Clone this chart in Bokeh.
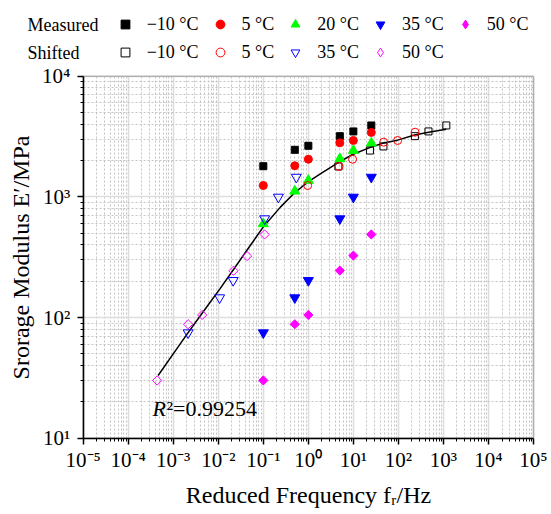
import math
from bokeh.plotting import figure
from bokeh.models import (FixedTicker, CustomJSTickFormatter, Legend, LegendItem, Label,
                          BoxAnnotation, Range1d, ColumnDataSource, CDSView, IndexFilter)
from bokeh.embed import file_html
from bokeh.resources import INLINE

# ---------------- data ----------------
freq_measured = [0.1, 0.5, 1, 5, 10, 25]
E_m10 = [1795, 2455, 2650, 3185, 3486, 3906]
E_5 = [1242, 1810, 2050, 2803, 2933, 3420]
E_20 = [598, 1115, 1368, 2070, 2420, 2786]
E_35 = [74.8, 146, 203, 659, 996, 1456]
E_50 = [30.1, 88, 105, 245, 326, 488]

freq_shift_m10 = [4.65, 23.3, 46.5, 232, 465, 1160]
E_shift_m10 = [1787, 2420, 2618, 3185, 3486, 3906]
freq_shift_5 = [0.966, 4.8, 9.6, 47, 96, 235]
E_shift_5 = [1242, 1787, 2050, 2840, 2933, 3433]
freq_shift_35 = [0.00214, 0.0107, 0.0214, 0.107, 0.216, 0.54]
E_shift_35 = [74.8, 146, 203, 659, 996, 1456]
freq_shift_50 = [0.000438, 0.00214, 0.00438, 0.0217, 0.0437, 0.107]
E_shift_50 = [30.1, 88, 105, 244, 323, 488]

fit_freq = [0.000461, 0.001026, 0.002138, 0.004375, 0.01096, 0.02198, 0.04365,
            0.1019, 0.2393, 0.4887, 0.966, 1.845, 4.797, 9.616, 23.77, 46.88,
            95.9, 228.6, 467.7, 1156]
fit_E = [33.1, 50.7, 75.0, 108.4, 173.8, 251.2, 363.1, 568.9, 822.2, 1076, 1324,
         1552, 1939, 2244, 2570, 2799, 2951, 3258, 3436, 3631]
r2_text = "0.99254"

x_ticks = [1e-5, 1e-4, 1e-3, 1e-2, 1e-1, 1e0, 1e1, 1e2, 1e3, 1e4, 1e5]
x_tick_labels = ["10⁻⁵", "10⁻⁴", "10⁻³", "10⁻²", "10⁻¹", "10⁰", "10¹", "10²", "10³", "10⁴", "10⁵"]
y_ticks = [1e1, 1e2, 1e3, 1e4]
y_tick_labels = ["10¹", "10²", "10³", "10⁴"]

measured_labels = ["−10 °C", "5 °C", "20 °C", "35 °C", "50 °C"]
shifted_labels = ["−10 °C", "5 °C", "35 °C", "50 °C"]

FONT = "Liberation Serif"
W, H = 551, 514
# pixel box of the plotting area inside the canvas
PL, PR, PT, PB = 82.7, 533.0, 75.7, 437.7
XMIN, XMAX, YMIN, YMAX = x_ticks[0], x_ticks[-1], y_ticks[0], y_ticks[-1]
dx = (PR - PL) / (math.log10(XMAX) - math.log10(XMIN))
dy = (PB - PT) / (math.log10(YMAX) - math.log10(YMIN))
x_range = Range1d(10 ** (math.log10(XMIN) - PL / dx), 10 ** (math.log10(XMAX) + (W - PR) / dx))
y_range = Range1d(10 ** (math.log10(YMIN) - (H - PB) / dy), 10 ** (math.log10(YMAX) + PT / dy))

p = figure(width=W, height=H, min_border=0,
           x_axis_type="log", y_axis_type="log",
           x_range=x_range, y_range=y_range,
           output_backend="svg", toolbar_location=None)
p.background_fill_color = "white"
p.border_fill_color = "white"
p.outline_line_color = None

x_minor = [m * t for t in x_ticks[:-1] for m in range(2, 10)]
y_minor = [m * t for t in y_ticks[:-1] for m in range(2, 10)]
p.xaxis.ticker = FixedTicker(ticks=x_ticks, minor_ticks=x_minor)
p.yaxis.ticker = FixedTicker(ticks=y_ticks, minor_ticks=y_minor)
fmt_code = """
const i = vals.findIndex(v => Math.abs(Math.log10(v) - Math.log10(tick)) < 1e-6);
return i >= 0 ? labels[i] : "";
"""
p.xaxis.formatter = CustomJSTickFormatter(args=dict(vals=x_ticks, labels=x_tick_labels), code=fmt_code)
p.yaxis.formatter = CustomJSTickFormatter(args=dict(vals=y_ticks, labels=y_tick_labels), code=fmt_code)
p.xaxis.fixed_location = YMIN
p.yaxis.fixed_location = XMIN
p.xaxis.bounds = (XMIN, XMAX)
p.yaxis.bounds = (YMIN, YMAX)

for ax in (p.xaxis[0], p.yaxis[0]):
    ax.axis_line_color = "black"
    ax.axis_line_width = 1.5
    ax.major_tick_line_color = "black"
    ax.major_tick_line_width = 1.5
    ax.minor_tick_line_color = "black"
    ax.minor_tick_line_width = 1
    ax.major_tick_out = 6
    ax.major_tick_in = 0
    ax.minor_tick_out = 3
    ax.minor_tick_in = 0
    ax.major_label_text_font = FONT
    ax.major_label_text_font_size = "21px"
    ax.major_label_text_color = "black"
    ax.axis_label_text_font = FONT
    ax.axis_label_text_font_size = "24px"
    ax.axis_label_text_font_style = "normal"
    ax.axis_label_text_color = "black"

p.xaxis.axis_label = "Reduced Frequency fᵣ/Hz"
p.yaxis.axis_label = "Srorage Modulus E′/MPa"
p.xaxis.major_label_standoff = 4
p.yaxis.major_label_standoff = 7
p.xaxis.axis_label_standoff = 6
p.yaxis.axis_label_standoff = 5

p.xgrid.bounds = (XMIN, XMAX)
p.ygrid.bounds = (YMIN, YMAX)
p.xgrid.cross_bounds = (YMIN, YMAX)
p.ygrid.cross_bounds = (XMIN, XMAX)
for g in (p.xgrid[0], p.ygrid[0]):
    g.grid_line_color = "#dedede"
    g.grid_line_width = 1.6
    g.minor_grid_line_color = "#c4c4c4"
    g.minor_grid_line_width = 1
    g.minor_grid_line_dash = "2 2"

# frame of the plotting area (top / right edges)
p.add_layout(BoxAnnotation(left=XMIN, right=XMAX, bottom=YMIN, top=YMAX, fill_alpha=0,
                           line_color="#404040", line_width=1.5, level="underlay"))

# fitted master curve
p.line(fit_freq, fit_E, line_color="black", line_width=1.5)

STY_M = [dict(marker="square", size=7, fill_color="black", line_color="black"),
         dict(marker="circle", size=8, fill_color="red", line_color="red"),
         dict(marker="triangle", size=10, fill_color="#00ff00", line_color="#00ff00"),
         dict(marker="inverted_triangle", size=10, fill_color="blue", line_color="blue"),
         dict(marker="square", angle=math.pi / 4, size=6.5, fill_color="magenta", line_color="magenta")]
STY_S = [dict(marker="square", size=7, fill_color=None, line_color="black"),
         dict(marker="circle", size=8, fill_color=None, line_color="red"),
         dict(marker="inverted_triangle", size=10, fill_color=None, line_color="blue"),
         dict(marker="square", angle=math.pi / 4, size=6.5, fill_color=None, line_color="magenta")]


def legend_renderer(r, fx, E, st):
    """Legend glyphs ignore a marker's rotation: give the legend a diamond
    stand-in that shares the data but is drawn at zero size on the chart."""
    if st.get("angle"):
        src = ColumnDataSource(dict(x=fx, y=E))
        return p.scatter("x", "y", source=src, view=CDSView(filter=IndexFilter([0])),
                         marker="diamond", size=0, fill_color=st["fill_color"],
                         line_color=st["line_color"], line_width=1)
    return r


items_m = []
for lab, E, st in zip(measured_labels, [E_m10, E_5, E_20, E_35, E_50], STY_M):
    r = p.scatter(freq_measured, E, **st)
    items_m.append(LegendItem(label=lab, renderers=[legend_renderer(r, freq_measured, E, st)]))
items_s = []
for lab, fx, E, st in zip(shifted_labels, [freq_shift_m10, freq_shift_5, freq_shift_35, freq_shift_50],
                          [E_shift_m10, E_shift_5, E_shift_35, E_shift_50], STY_S):
    r = p.scatter(fx, E, line_width=1, **st)
    items_s.append(LegendItem(label=lab, renderers=[legend_renderer(r, fx, E, st)]))


def make_legend(items, loc):
    return Legend(items=items, location=loc, orientation="horizontal",
                  glyph_width=24, glyph_height=22, label_height=20, label_standoff=10, spacing=9,
                  padding=0, margin=0, border_line_color=None, background_fill_alpha=0,
                  label_text_font=FONT, label_text_font_size="18px", label_text_color="black")


p.add_layout(make_legend(items_m, (112.7, H - 35)), "center")
p.add_layout(make_legend(items_s, (112.7, H - 63)), "center")

p.add_layout(Label(x=27, y=H - 24, x_units="screen", y_units="screen", text="Measured",
                   text_font=FONT, text_font_size="18px", text_baseline="middle", text_color="black"))
p.add_layout(Label(x=27, y=H - 52, x_units="screen", y_units="screen", text="Shifted",
                   text_font=FONT, text_font_size="18px", text_baseline="middle", text_color="black"))

# R^2 annotation
p.add_layout(Label(x=0.000345, y=17.5, text="R", text_font=FONT, text_font_size="22px",
                   text_font_style="italic", text_baseline="alphabetic", text_color="black"))
p.add_layout(Label(x=0.000345, y=17.5, x_offset=14, text="²=" + r2_text, text_font=FONT,
                   text_font_size="22px", text_baseline="alphabetic", text_color="black"))

open("out.html", "w").write(file_html(p, INLINE))
